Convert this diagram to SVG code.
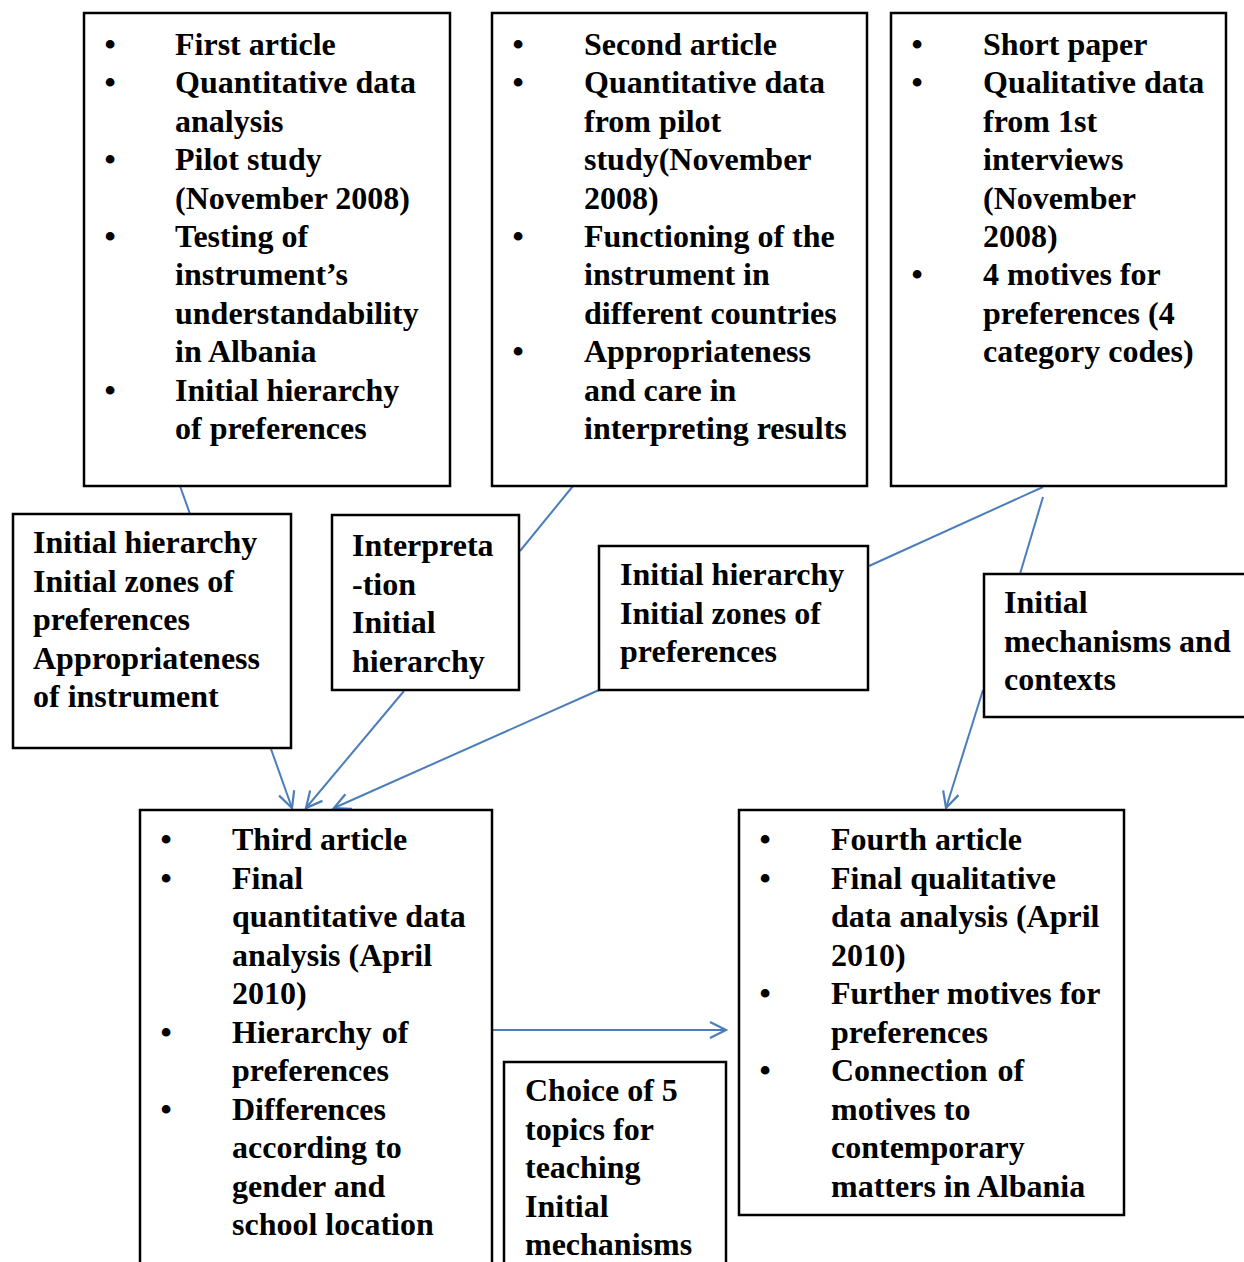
<svg xmlns="http://www.w3.org/2000/svg" width="1244" height="1262" viewBox="0 0 1244 1262">
<style>
.box{fill:#fff;stroke:#000;stroke-width:2.5}
.t{font-family:"Liberation Serif","Times New Roman",serif;font-weight:bold;font-size:32px;fill:#000}
.b{text-anchor:middle}
.c{fill:none;stroke:#4A7EBB;stroke-width:2}
</style>
<defs>
<marker id="ah" markerUnits="userSpaceOnUse" markerWidth="24" markerHeight="24" viewBox="0 0 24 24" refX="20" refY="12" orient="auto">
<path d="M4,4 L20,12 L4,20" fill="none" stroke="#4A7EBB" stroke-width="2.2"/>
</marker>
</defs>
<rect width="1244" height="1262" fill="#fff"/>
<g id="connectors">
<line class="c" x1="180" y1="486" x2="190" y2="514"/>
<line class="c" x1="573" y1="486" x2="520" y2="551"/>
<line class="c" x1="1043" y1="487" x2="869" y2="566"/>
<line class="c" x1="1043" y1="497" x2="1020" y2="574"/>
<line class="c" x1="271" y1="749" x2="292" y2="808" marker-end="url(#ah)"/>
<line class="c" x1="404" y1="691" x2="306" y2="808" marker-end="url(#ah)"/>
<line class="c" x1="599" y1="690" x2="334" y2="808" marker-end="url(#ah)"/>
<line class="c" x1="983" y1="690" x2="946" y2="808" marker-end="url(#ah)"/>
<line class="c" x1="493" y1="1030" x2="726" y2="1030" marker-end="url(#ah)"/>
</g>
<g id="first-article">
<rect class="box" x="84" y="13" width="366" height="473"/>
<g class="t">
<text class="b" x="110" y="55">•</text><text x="175" y="55">First article</text>
<text class="b" x="110" y="93.4">•</text><text x="175" y="93.4">Quantitative data</text>
<text x="175" y="131.8">analysis</text>
<text class="b" x="110" y="170.2">•</text><text x="175" y="170.2">Pilot study</text>
<text x="175" y="208.6">(November 2008)</text>
<text class="b" x="110" y="247">•</text><text x="175" y="247">Testing of</text>
<text x="175" y="285.4">instrument’s</text>
<text x="175" y="323.8">understandability</text>
<text x="175" y="362.2">in Albania</text>
<text class="b" x="110" y="400.6">•</text><text x="175" y="400.6">Initial hierarchy</text>
<text x="175" y="439">of preferences</text>
</g>
</g>
<g id="second-article">
<rect class="box" x="492" y="13" width="375" height="473"/>
<g class="t">
<text class="b" x="518" y="55">•</text><text x="584" y="55">Second article</text>
<text class="b" x="518" y="93.4">•</text><text x="584" y="93.4">Quantitative data</text>
<text x="584" y="131.8">from pilot</text>
<text x="584" y="170.2">study(November</text>
<text x="584" y="208.6">2008)</text>
<text class="b" x="518" y="247">•</text><text x="584" y="247">Functioning of the</text>
<text x="584" y="285.4">instrument in</text>
<text x="584" y="323.8">different countries</text>
<text class="b" x="518" y="362.2">•</text><text x="584" y="362.2">Appropriateness</text>
<text x="584" y="400.6">and care in</text>
<text x="584" y="439">interpreting results</text>
</g>
</g>
<g id="short-paper">
<rect class="box" x="891" y="13" width="335" height="473"/>
<g class="t">
<text class="b" x="917" y="55">•</text><text x="983" y="55">Short paper</text>
<text class="b" x="917" y="93.4">•</text><text x="983" y="93.4">Qualitative data</text>
<text x="983" y="131.8">from 1st</text>
<text x="983" y="170.2">interviews</text>
<text x="983" y="208.6">(November</text>
<text x="983" y="247">2008)</text>
<text class="b" x="917" y="285.4">•</text><text x="983" y="285.4">4 motives for</text>
<text x="983" y="323.8">preferences (4</text>
<text x="983" y="362.2">category codes)</text>
</g>
</g>
<g id="label-left">
<rect class="box" x="13" y="514" width="278" height="234"/>
<g class="t">
<text x="33" y="553">Initial hierarchy</text>
<text x="33" y="591.5">Initial zones of</text>
<text x="33" y="630">preferences</text>
<text x="33" y="668.5">Appropriateness</text>
<text x="33" y="707">of instrument</text>
</g>
</g>
<g id="label-interpretation">
<rect class="box" x="332" y="515" width="187" height="175"/>
<g class="t">
<text x="352" y="556">Interpreta</text>
<text x="352" y="594.5">-tion</text>
<text x="352" y="633">Initial</text>
<text x="352" y="671.5">hierarchy</text>
</g>
</g>
<g id="label-middle">
<rect class="box" x="599" y="546" width="269" height="144"/>
<g class="t">
<text x="620" y="585">Initial hierarchy</text>
<text x="620" y="623.5">Initial zones of</text>
<text x="620" y="662">preferences</text>
</g>
</g>
<g id="label-mechanisms">
<rect class="box" x="984" y="574" width="290" height="143"/>
<g class="t">
<text x="1004" y="613">Initial</text>
<text x="1004" y="651.5">mechanisms and</text>
<text x="1004" y="690">contexts</text>
</g>
</g>
<g id="third-article">
<rect class="box" x="140" y="810" width="352" height="480"/>
<g class="t">
<text class="b" x="166" y="850">•</text><text x="232" y="850">Third article</text>
<text class="b" x="166" y="888.5">•</text><text x="232" y="888.5">Final</text>
<text x="232" y="927">quantitative data</text>
<text x="232" y="965.5">analysis (April</text>
<text x="232" y="1004">2010)</text>
<text class="b" x="166" y="1042.5">•</text><text x="232" y="1042.5" word-spacing="2">Hierarchy of</text>
<text x="232" y="1081">preferences</text>
<text class="b" x="166" y="1119.5">•</text><text x="232" y="1119.5">Differences</text>
<text x="232" y="1158">according to</text>
<text x="232" y="1196.5">gender and</text>
<text x="232" y="1235">school location</text>
</g>
</g>
<g id="choice">
<rect class="box" x="504" y="1062" width="222" height="230"/>
<g class="t">
<text x="525" y="1101">Choice of 5</text>
<text x="525" y="1139.5">topics for</text>
<text x="525" y="1178">teaching</text>
<text x="525" y="1216.5">Initial</text>
<text x="525" y="1255">mechanisms</text>
</g>
</g>
<g id="fourth-article">
<rect class="box" x="739" y="810" width="385" height="405"/>
<g class="t">
<text class="b" x="765" y="850">•</text><text x="831" y="850">Fourth article</text>
<text class="b" x="765" y="888.5">•</text><text x="831" y="888.5">Final qualitative</text>
<text x="831" y="927">data analysis (April</text>
<text x="831" y="965.5">2010)</text>
<text class="b" x="765" y="1004">•</text><text x="831" y="1004">Further motives for</text>
<text x="831" y="1042.5">preferences</text>
<text class="b" x="765" y="1081">•</text><text x="831" y="1081" word-spacing="2">Connection of</text>
<text x="831" y="1119.5">motives to</text>
<text x="831" y="1158">contemporary</text>
<text x="831" y="1196.5">matters in Albania</text>
</g>
</g>
</svg>
